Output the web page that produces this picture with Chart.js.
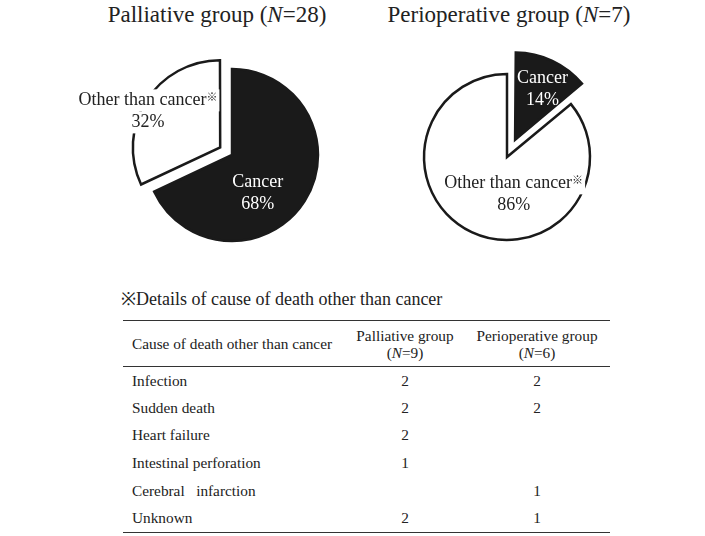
<!DOCTYPE html>
<html>
<head>
<meta charset="utf-8">
<script src="https://cdn.jsdelivr.net/npm/chart.js@4.4.1/dist/chart.umd.min.js"></script>
<style>
  html, body { margin: 0; padding: 0; background: #fff; }
  body { width: 705px; height: 536px; position: relative; overflow: hidden;
         font-family: "Liberation Serif", "Times New Roman", serif; color: #222; }
  .title { position: absolute; font-size: 23px; line-height: 26px; white-space: nowrap; transform: translateX(-50%); }
  canvas { position: absolute; }
  #note { position: absolute; left: 121px; top: 289px; font-size: 18px; line-height: 20px; white-space: nowrap; }
  table { position: absolute; left: 123px; top: 320px; width: 487px; border-collapse: collapse; font-size: 15.3px; }
  table td { padding: 0; vertical-align: middle; white-space: nowrap; }
  thead tr { height: 46px; }
  thead td { line-height: 17px; border-top: 1.5px solid #333; border-bottom: 1px solid #333; }
  tbody tr { height: 27.6px; }
  tbody tr:last-child td { border-bottom: 1.5px solid #333; }
  td.c1 { padding-left: 9px; text-align: left; width: 207px; }
  td.c2 { text-align: center; width: 132px; }
  td.c3 { text-align: center; width: 132px; padding-right: 7px; }
</style>
</head>
<body>
<div class="title" style="left:217px; top:2px;">Palliative group (<i>N</i>=28)</div>
<div class="title" style="left:509px; top:2px;">Perioperative group (<i>N</i>=7)</div>
<canvas id="pieL" width="340" height="260" style="left:62px; top:25px;"></canvas>
<canvas id="pieR" width="340" height="260" style="left:337px; top:27px;"></canvas>
<div id="note">※Details of cause of death other than cancer</div>
<table id="tbl"></table>
<script>
// ---- data ----
const sliceLabels = ['Cancer', 'Other than cancer'];
const palliativePct = [68, 32];
const perioperativePct = [14, 86];

const tableHeader = ['Cause of death other than cancer', 'Palliative group', 'Perioperative group'];
const tableGroupN = [9, 6];
const causes = ['Infection', 'Sudden death', 'Heart failure', 'Intestinal perforation', 'Cerebral\u00a0\u00a0 infarction', 'Unknown'];
const palliativeCounts = [2, 2, 2, 1, null, 2];
const perioperativeCounts = [2, 2, null, null, 1, 1];

// ---- table ----
(function buildTable(){
  const t = document.getElementById('tbl');
  let h = '<thead><tr><td class="c1">' + tableHeader[0] + '</td>' +
          '<td class="c2">' + tableHeader[1] + '<br>(<i>N</i>=' + tableGroupN[0] + ')</td>' +
          '<td class="c3">' + tableHeader[2] + '<br>(<i>N</i>=' + tableGroupN[1] + ')</td></tr></thead><tbody>';
  causes.forEach((c, i) => {
    h += '<tr><td class="c1">' + c + '</td><td class="c2">' + (palliativeCounts[i] ?? '') +
         '</td><td class="c3">' + (perioperativeCounts[i] ?? '') + '</td></tr>';
  });
  h += '</tbody>';
  t.innerHTML = h;
})();

// ---- slice label plugin ----
const sliceLabelPlugin = {
  id: 'sliceLabelPlugin',
  afterDatasetsDraw(chart, args, opts) {
    const ctx = chart.ctx;
    const meta = chart.getDatasetMeta(0);
    const ds = chart.data.datasets[0];
    meta.data.forEach((arc, i) => {
      const p = arc.getProps(['x', 'y', 'startAngle', 'endAngle', 'outerRadius'], true);
      const mid = (p.startAngle + p.endAngle) / 2;
      const off = (Array.isArray(ds.offset) ? ds.offset[i] : (ds.offset || 0)) / 4; // Chart.js v4 draws offset/4
      const cx = p.x + Math.cos(mid) * off;
      const cy = p.y + Math.sin(mid) * off;
      const pos = opts.pos[i];
      const lx = cx + pos[0] * p.outerRadius;
      const ly = cy + pos[1] * p.outerRadius;
      const isWhite = ds.backgroundColor[i] === '#ffffff';
      const color = isWhite ? '#222' : '#ffffff';
      ctx.save();
      ctx.textBaseline = 'middle';
      const main = chart.data.labels[i];
      const mark = opts.marks[i] ? '※' : '';
      const f1 = '18px "Liberation Serif"';
      const f2 = '11px "Noto Sans CJK JP", "DejaVu Sans"';
      ctx.font = f1;
      const w1 = ctx.measureText(main).width;
      const wv = ctx.measureText(ds.data[i] + '%').width;
      ctx.font = f2;
      const w2 = mark ? ctx.measureText(mark).width : 0;
      const x0 = lx - (w1 + w2) / 2;
      const gap = opts.lineGap;
      if (isWhite) {
        ctx.fillStyle = '#ffffff';
        ctx.fillRect(x0 - 2, ly - gap / 2 - 11, w1 + w2 + 4, 22);
        ctx.fillRect(lx - wv / 2 - 2, ly + gap / 2 - 11, wv + 4, 22);
      }
      ctx.fillStyle = color;
      ctx.textAlign = 'left';
      ctx.font = f1;
      ctx.fillText(main, x0, ly - gap / 2);
      if (mark) {
        ctx.font = f2;
        ctx.fillText(mark, x0 + w1, ly - gap / 2 - 4);
      }
      ctx.font = f1;
      ctx.textAlign = 'center';
      ctx.fillText(ds.data[i] + '%', lx, ly + gap / 2);
      ctx.restore();
    });
  }
};

function makePie(id, values, radius, offsets, pos) {
  return new Chart(document.getElementById(id), {
    type: 'pie',
    data: {
      labels: sliceLabels,
      datasets: [{
        data: values,
        backgroundColor: ['#1a1a1a', '#ffffff'],
        borderColor: '#1a1a1a',
        borderWidth: 2.5,
        borderJoinStyle: 'miter',
        offset: offsets,
        radius: radius
      }]
    },
    options: {
      responsive: false,
      animation: false,
      layout: { padding: 0 },
      plugins: {
        legend: { display: false },
        tooltip: { enabled: false },
        sliceLabelPlugin: { pos: pos, marks: [false, true], lineGap: 22 }
      }
    },
    plugins: [sliceLabelPlugin]
  });
}

makePie('pieL', palliativePct, 86, [0, 56], [[0.30, 0.45], [-0.84, -0.42]]);
makePie('pieR', perioperativePct, 83, [76, 0], [[0.33, -0.61], [0.08, 0.45]]);
</script>
</body>
</html>
